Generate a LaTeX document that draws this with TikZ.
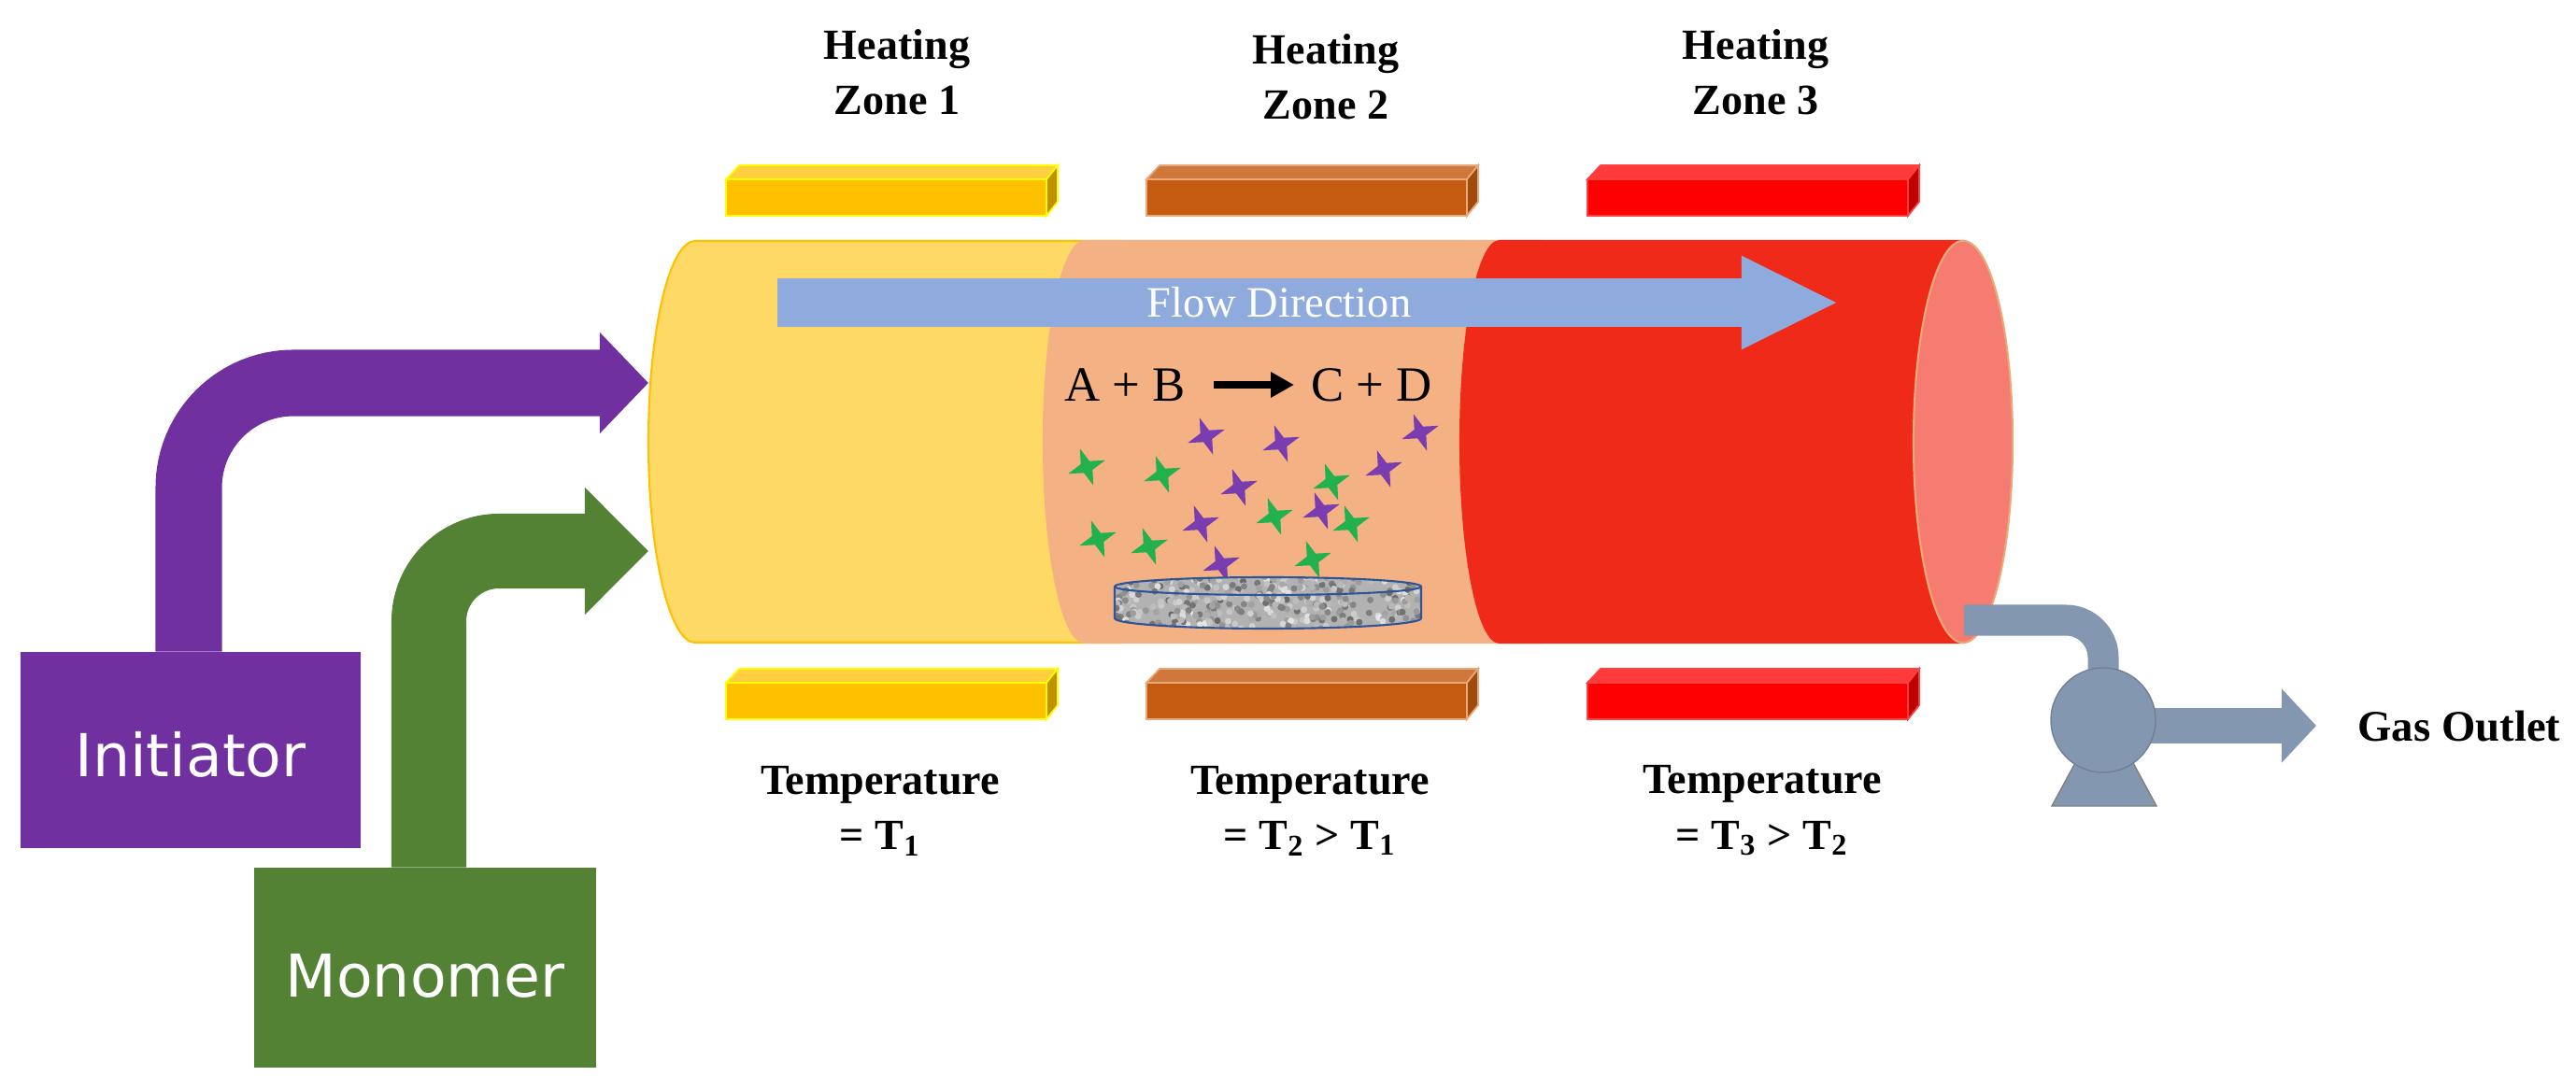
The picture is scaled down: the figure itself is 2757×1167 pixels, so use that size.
\documentclass[tikz,border=0pt]{standalone}
\usepackage{fontspec}
\setmainfont{Liberation Serif}
\newfontfamily\feedfont{DejaVu Sans}
\usetikzlibrary{arrows.meta, shapes.geometric}
\definecolor{feedpurple}{HTML}{7030A0}
\definecolor{feedgreen}{HTML}{548235}
\definecolor{tubeyellow}{HTML}{FFD966}
\definecolor{tubepeach}{HTML}{F4B183}
\definecolor{tubered}{HTML}{F02A19}
\definecolor{tubepink}{HTML}{F67C72}
\definecolor{flowblue}{HTML}{8FAADC}
\definecolor{pumpblue}{HTML}{8497B0}
\definecolor{stargreen}{HTML}{22B14C}
\definecolor{starpurple}{HTML}{7A3DB0}
\definecolor{discblue}{HTML}{2F5597}
\definecolor{Afront}{HTML}{FFC000}
\definecolor{Atop}{HTML}{FFCF40}
\definecolor{Aside}{HTML}{BF9000}
\definecolor{Aedge}{HTML}{FFFF00}
\definecolor{Bfront}{HTML}{C55A11}
\definecolor{Btop}{HTML}{D0773C}
\definecolor{Bside}{HTML}{A04A0E}
\definecolor{Bedge}{HTML}{E9A878}
\definecolor{Cfront}{HTML}{FF0000}
\definecolor{Ctop}{HTML}{FF3A3A}
\definecolor{Cside}{HTML}{C00000}
\definecolor{Cedge}{HTML}{FF4040}
\tikzset{
	feedbox/.style={rectangle, inner sep=0pt, text=white, text depth=0pt, font=\feedfont\fontsize{18}{22}\selectfont},
	zonetext/.style={align=center, inner sep=0pt, font=\bfseries\fontsize{13.1}{16.8}\selectfont},
	tubepart/.style={line width=0.6pt},
	pics/gasstar/.style={code={
		\fill[pic actions] (-20:21) -- (-65:7) -- (-110:21) -- (-155:7) -- (-200:21) -- (-245:7) -- (-290:21) -- (-335:7) -- cycle;
	}},
}
\begin{document}
\begin{tikzpicture}[x=0.01cm, y=-0.01cm]
	\useasboundingbox (0,0) rectangle (2757,1167);
	\draw[tubepart, draw=Afront, fill=tubeyellow] (1200,258) -- (744,258) arc[start angle=-90, end angle=-270, x radius=50, y radius=215] -- (1200,688) -- cycle;
	\draw[tubepart, draw=tubepeach, fill=tubepeach] (1650,258) -- (1161,258) arc[start angle=-90, end angle=-270, x radius=44, y radius=215] -- (1650,688) -- cycle;
	\draw[tubepart, draw=tubered, fill=tubered] (2101,258) -- (1605,258) arc[start angle=-90, end angle=-270, x radius=42, y radius=215] -- (2101,688) -- cycle;
	\node[tubepart, draw=Bedge, fill=tubepink, ellipse, inner sep=0pt, minimum width=1.06cm, minimum height=4.3cm] (TubeEnd) at (2101,473) {};

	\foreach \hx/\hname in {777/A, 1227/B, 1699/C}{
		\foreach \hy in {192,731}{
			\draw[draw=\hname edge, fill=\hname top, line width=0.5pt] (\hx,\hy) -- ++(14,-15) -- ++(341,0) -- ++(-12,15) -- cycle;
			\draw[draw=\hname edge, fill=\hname side, line width=0.5pt] (\hx+343,\hy) -- ++(12,-15) -- ++(0,39) -- ++(-12,15) -- cycle;
			\draw[draw=\hname edge, fill=\hname front, line width=0.5pt] (\hx,\hy) rectangle ++(343,39);
		}
	}

	\node[zonetext] (ZoneA) at (960,77) {Heating\\Zone 1};
	\node[zonetext] (ZoneB) at (1419,82) {Heating\\Zone 2};
	\node[zonetext] (ZoneC) at (1879,77) {Heating\\Zone 3};
	\node[zonetext] (TempA) at (942,868) {Temperature\\= T\textsubscript{1}};
	\node[zonetext] (TempB) at (1402,868) {Temperature\\= T\textsubscript{2} > T\textsubscript{1}};
	\node[zonetext] (TempC) at (1886,868) {Temperature\\= T\textsubscript{3} > T\textsubscript{2}};

	\coordinate (FlowStart) at (832,324);
	\coordinate (FlowEnd) at (1968,324);
	\draw[draw=flowblue, line width=0.52cm, -{Triangle[length=1.04cm, width=0.92cm]}] (FlowStart) -- (FlowEnd);
	\node[text=white, font=\fontsize{13.2}{16}\selectfont] (FlowText) at (1369,324) {Flow Direction};

	\foreach \sx/\sy in {1163/500, 1244/508, 1175/577, 1230/585, 1364/553, 1425/516, 1446/561, 1405/599}{
		\pic[fill=stargreen] at (\sx,\sy) {gasstar};
	}
	\foreach \sx/\sy in {1291/467, 1371/475, 1520/463, 1481/502, 1326/522, 1414/547, 1285/561, 1307/604}{
		\pic[fill=starpurple] at (\sx,\sy) {gasstar};
	}

	\node[inner sep=0pt, font=\fontsize{15}{18}\selectfont] (Reagents) at (1204,412) {A + B};
	\node[inner sep=0pt, font=\fontsize{15}{18}\selectfont] (Products) at (1468,412) {C + D};
	\draw[line width=2.2pt, -{Triangle[length=0.25cm, width=0.26cm]}] (Reagents.east)+(0.3cm,0) -- (1385,412);

	\begin{scope}
		\clip (1193,628) arc[start angle=-180, end angle=0, x radius=164, y radius=10] -- (1521,662) arc[start angle=0, end angle=180, x radius=164, y radius=11] -- cycle;
		\fill[black!30] (1193,610) rectangle (1521,680);
		\pgfmathsetseed{11}
		\foreach \d in {1,...,420}{
			\pgfmathsetmacro{\dx}{1193+328*rnd}
			\pgfmathsetmacro{\dy}{616+58*rnd}
			\pgfmathsetmacro{\dk}{int(10+50*rnd)}
			\fill[black!\dk] (\dx,\dy) circle[radius=3.5];
		}
	\end{scope}
	\draw[draw=discblue, line width=0.6pt] (1193,628) arc[start angle=-180, end angle=0, x radius=164, y radius=10] -- (1521,662) arc[start angle=0, end angle=180, x radius=164, y radius=11] -- cycle;
	\draw[draw=discblue, line width=0.6pt] (1193,628) arc[start angle=180, end angle=0, x radius=164, y radius=9];

	\node[feedbox, minimum width=3.64cm, minimum height=2.09cm, text height=0.56cm, fill=feedpurple] (Init) at (204,803) {Initiator};
	\node[feedbox, minimum width=3.66cm, minimum height=2.13cm, text height=0.62cm, fill=feedgreen] (Mono) at (455,1036) {Monomer};
	\coordinate (InitTip) at (694,410);
	\coordinate (MonoTip) at (694,590);
	\draw[draw=feedpurple, line width=0.71cm, rounded corners=1.12cm, -{Triangle[length=0.52cm, width=1.05cm]}] ([xshift=-0.02cm]Init.north) |- (InitTip);
	\draw[draw=feedgreen, line width=0.8cm, rounded corners=0.75cm, -{Triangle[length=0.68cm, width=1.32cm]}] ([xshift=0.04cm]Mono.north) |- (MonoTip);

	\node[circle, inner sep=0pt, minimum size=1.12cm] (Pump) at (2251,771) {};
	\coordinate (PipeStart) at (2102,664);
	\coordinate (OutletTip) at (2479,777);
	\draw[draw=gray, fill=pumpblue, line width=0.4pt] (2196,863) -- (2308,863) -- (2282,815) -- (2222,815) -- cycle;
	\draw[draw=pumpblue, line width=0.33cm, rounded corners=0.4cm] (PipeStart) -| (Pump.center);
	\draw[draw=pumpblue, line width=0.38cm, -{Triangle[length=0.37cm, width=0.77cm]}] (Pump.center |- OutletTip) -- (OutletTip);
	\node[circle, draw=pumpblue!85!black, fill=pumpblue, inner sep=0pt, minimum size=1.12cm, line width=0.4pt] (PumpBody) at (Pump) {};
	\node[font=\bfseries\fontsize{13.3}{16}\selectfont, inner sep=0pt] (Gas) at (2632,778) {Gas Outlet};
\end{tikzpicture}
\end{document}
